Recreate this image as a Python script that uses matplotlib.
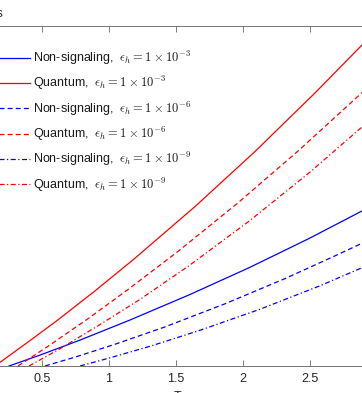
import numpy as np
import matplotlib
matplotlib.use('Agg')
import matplotlib.pyplot as plt

plt.rcParams['font.family'] = ['Liberation Sans', 'DejaVu Sans']
plt.rcParams['mathtext.fontset'] = 'cm'

# values (x in axis units, y rescaled to 0..1 of the plot height)
ns3_x = [0.254, 0.478, 0.776, 1.149, 1.597, 2.045, 2.493, 2.888, 3.0]
ns3_y = [0.0, 0.031, 0.075, 0.134, 0.209, 0.289, 0.375, 0.456, 0.479]

q3_x = [0.149, 0.373, 0.597, 0.896, 1.194, 1.642, 2.090, 2.537, 2.888, 3.0]
q3_y = [0.0, 0.064, 0.129, 0.221, 0.317, 0.469, 0.631, 0.803, 0.944, 0.991]

ns6_x = [0.522, 0.746, 1.045, 1.418, 1.866, 2.313, 2.687, 2.888, 3.0]
ns6_y = [0.0, 0.026, 0.064, 0.115, 0.183, 0.257, 0.324, 0.361, 0.383]

q6_x = [0.321, 0.545, 0.843, 1.142, 1.515, 1.963, 2.410, 2.888, 3.0]
q6_y = [0.0, 0.058, 0.139, 0.225, 0.337, 0.480, 0.632, 0.804, 0.846]

ns9_x = [0.784, 1.007, 1.306, 1.679, 2.127, 2.575, 2.888, 3.0]
ns9_y = [0.0, 0.024, 0.058, 0.105, 0.167, 0.236, 0.289, 0.308]

q9_x = [0.403, 0.627, 0.925, 1.224, 1.597, 2.045, 2.493, 2.888, 3.0]
q9_y = [0.0, 0.049, 0.120, 0.194, 0.295, 0.426, 0.568, 0.703, 0.743]

labels = ['Non-signaling,  $\\epsilon_h = 1\\times10^{-3}$',
          'Quantum,  $\\epsilon_h = 1\\times10^{-3}$',
          'Non-signaling,  $\\epsilon_h = 1\\times10^{-6}$',
          'Quantum,  $\\epsilon_h = 1\\times10^{-6}$',
          'Non-signaling,  $\\epsilon_h = 1\\times10^{-9}$',
          'Quantum,  $\\epsilon_h = 1\\times10^{-9}$']

# only the ticks that fall inside the cropped picture
xticks = [0.5, 1, 1.5, 2, 2.5]
xticklabels = ['0.5', '1', '1.5', '2', '2.5']

W, H = 362, 393
fig = plt.figure(figsize=(W / 100, H / 100), dpi=100)
# the reference is a crop: the axes run past the left and right edges
ax = fig.add_axes([-25 / W, 1 - 366 / H, 402 / W, 340 / H])

lw = 0.9
dash = (4, 2.5)
dashdot = (4, 2, 1, 2)
ax.plot(ns3_x, ns3_y, color='b', lw=lw, label=labels[0])
ax.plot(q3_x, q3_y, color='r', lw=lw, label=labels[1])
ax.plot(ns6_x, ns6_y, color='b', lw=lw, dashes=dash, label=labels[2])
ax.plot(q6_x, q6_y, color='r', lw=lw, dashes=dash, label=labels[3])
ax.plot(ns9_x, ns9_y, color='b', lw=lw, dashes=dashdot, label=labels[4])
ax.plot(q9_x, q9_y, color='r', lw=lw, dashes=dashdot, label=labels[5])

ax.set_xlim(0, 3)
ax.set_ylim(0, 1)
ax.set_xticks(xticks)
ax.set_xticklabels(xticklabels)
ax.set_yticks([])
ax.tick_params(axis='x', direction='in', length=4, width=0.6, color='0.4',
               labelsize=9, labelcolor='0.15', pad=5, top=True)
for s in ax.spines.values():
    s.set_color('0.45')
    s.set_linewidth(0.7)

fs = 9
L = 3.5
leg = ax.legend(loc='upper left', bbox_to_anchor=((30 - L * 12.5) / W, 1 - 49 / H),
                bbox_transform=fig.transFigure, frameon=False, fontsize=fs,
                handlelength=L, handletextpad=0.24, labelspacing=0.58,
                borderpad=0, borderaxespad=0)
for t in leg.get_texts():
    t.set_color('0.1')

fig.text(2.7 / W, 1 - 14 / H, 'bits', ha='right', va='center', fontsize=9, color='0.15')
fig.text(177.5 / W, 1 - 391 / H, 'T', ha='center', va='top', fontsize=9, color='0.15')

fig.savefig('out.png', dpi=100)
